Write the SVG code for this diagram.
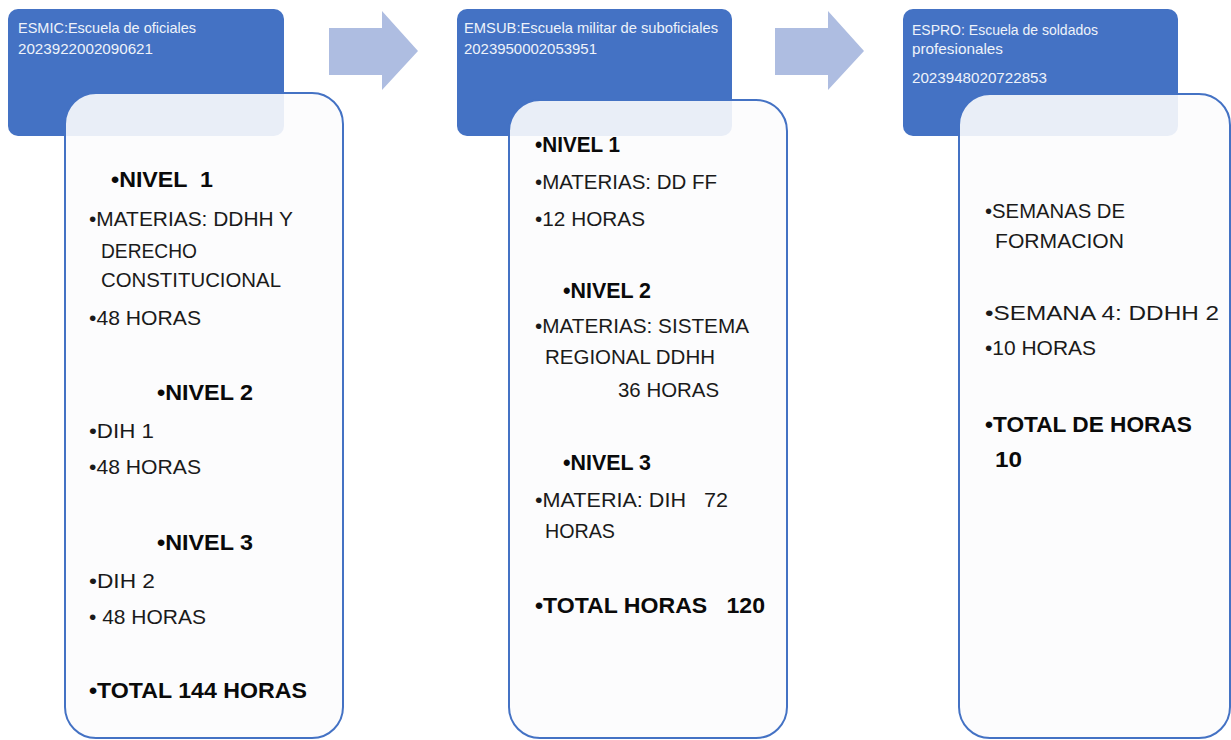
<svg xmlns="http://www.w3.org/2000/svg" width="1231" height="740" viewBox="0 0 1231 740">
<style>
.hdr{fill:#4472C4;}
.card{fill:#FCFCFD;fill-opacity:0.9;stroke:#4472C4;stroke-width:2;}
.arrow{fill:#AEBDE1;}
.ht{font-family:"Liberation Sans",Arial,sans-serif;font-size:15px;fill:#EEF2FA;}
.t{font-family:"Liberation Sans",Arial,sans-serif;font-size:21px;fill:#1A1A1A;}
.b{font-family:"Liberation Sans",Arial,sans-serif;font-size:22px;font-weight:bold;fill:#0A0A0A;}
</style>
<rect width="1231" height="740" fill="#FFFFFF"/>
<g id="connectors">
<path class="arrow" d="M329,28 H382 V11 L418,51 L382,90 V75 H329 Z"/>
<path class="arrow" d="M775,28 H828 V11 L864,51 L828,90 V75 H775 Z"/>
</g>
<g id="esmic">
<rect class="hdr" x="8" y="9" width="276" height="127" rx="10"/>
<rect class="card" x="65" y="93" width="278" height="645" rx="31"/>
<text class="ht" x="18" y="33" textLength="178" lengthAdjust="spacingAndGlyphs">ESMIC:Escuela de oficiales</text>
<text class="ht" x="18" y="54" textLength="135" lengthAdjust="spacingAndGlyphs">2023922002090621</text>
<text class="b" x="111" y="187" textLength="102" lengthAdjust="spacingAndGlyphs" xml:space="preserve">•NIVEL  1</text>
<text class="t" x="89" y="226" textLength="204" lengthAdjust="spacingAndGlyphs">•MATERIAS: DDHH Y</text>
<text class="t" x="101" y="258" textLength="96" lengthAdjust="spacingAndGlyphs">DERECHO</text>
<text class="t" x="101" y="287" textLength="180" lengthAdjust="spacingAndGlyphs">CONSTITUCIONAL</text>
<text class="t" x="89" y="325" textLength="112" lengthAdjust="spacingAndGlyphs">•48 HORAS</text>
<text class="b" x="157" y="400" textLength="96" lengthAdjust="spacingAndGlyphs">•NIVEL 2</text>
<text class="t" x="89" y="438" textLength="65" lengthAdjust="spacingAndGlyphs">•DIH 1</text>
<text class="t" x="89" y="474" textLength="112" lengthAdjust="spacingAndGlyphs">•48 HORAS</text>
<text class="b" x="157" y="550" textLength="96" lengthAdjust="spacingAndGlyphs">•NIVEL 3</text>
<text class="t" x="89" y="588" textLength="66" lengthAdjust="spacingAndGlyphs">•DIH 2</text>
<text class="t" x="89" y="624" textLength="117" lengthAdjust="spacingAndGlyphs" xml:space="preserve">• 48 HORAS</text>
<text class="b" x="89" y="698" textLength="218" lengthAdjust="spacingAndGlyphs">•TOTAL 144 HORAS</text>
</g>
<g id="emsub">
<rect class="hdr" x="457" y="9" width="275" height="127" rx="10"/>
<rect class="card" x="509" y="100" width="278" height="638" rx="31"/>
<text class="ht" x="464" y="33" textLength="254" lengthAdjust="spacingAndGlyphs">EMSUB:Escuela militar de suboficiales</text>
<text class="ht" x="464" y="54" textLength="133" lengthAdjust="spacingAndGlyphs">2023950002053951</text>
<text class="b" x="535" y="152" textLength="85" lengthAdjust="spacingAndGlyphs">•NIVEL 1</text>
<text class="t" x="535" y="189" textLength="182" lengthAdjust="spacingAndGlyphs">•MATERIAS: DD FF</text>
<text class="t" x="535" y="226" textLength="110" lengthAdjust="spacingAndGlyphs">•12 HORAS</text>
<text class="b" x="563" y="298" textLength="88" lengthAdjust="spacingAndGlyphs">•NIVEL 2</text>
<text class="t" x="535" y="333" textLength="214" lengthAdjust="spacingAndGlyphs">•MATERIAS: SISTEMA</text>
<text class="t" x="545" y="364" textLength="170" lengthAdjust="spacingAndGlyphs">REGIONAL DDHH</text>
<text class="t" x="618" y="397" textLength="101" lengthAdjust="spacingAndGlyphs">36 HORAS</text>
<text class="b" x="563" y="470" textLength="88" lengthAdjust="spacingAndGlyphs">•NIVEL 3</text>
<text class="t" x="535" y="507" textLength="193" lengthAdjust="spacingAndGlyphs" xml:space="preserve">•MATERIA: DIH   72</text>
<text class="t" x="545" y="538" textLength="70" lengthAdjust="spacingAndGlyphs">HORAS</text>
<text class="b" x="535" y="613" textLength="230" lengthAdjust="spacingAndGlyphs" xml:space="preserve">•TOTAL HORAS   120</text>
</g>
<g id="espro">
<rect class="hdr" x="903" y="9" width="275" height="127" rx="10"/>
<rect class="card" x="959" y="94" width="271" height="644" rx="31"/>
<text class="ht" x="912" y="35" textLength="186" lengthAdjust="spacingAndGlyphs">ESPRO: Escuela de soldados</text>
<text class="ht" x="912" y="54" textLength="91" lengthAdjust="spacingAndGlyphs">profesionales</text>
<text class="ht" x="912" y="83" textLength="135" lengthAdjust="spacingAndGlyphs">2023948020722853</text>
<text class="t" x="985" y="218" textLength="140" lengthAdjust="spacingAndGlyphs">•SEMANAS DE</text>
<text class="t" x="995" y="248" textLength="129" lengthAdjust="spacingAndGlyphs">FORMACION</text>
<text class="t" x="985" y="320" textLength="234" lengthAdjust="spacingAndGlyphs">•SEMANA 4: DDHH 2</text>
<text class="t" x="985" y="355" textLength="111" lengthAdjust="spacingAndGlyphs">•10 HORAS</text>
<text class="b" x="985" y="432" textLength="207" lengthAdjust="spacingAndGlyphs">•TOTAL DE HORAS</text>
<text class="b" x="995" y="467" textLength="27" lengthAdjust="spacingAndGlyphs">10</text>
</g>
</svg>
